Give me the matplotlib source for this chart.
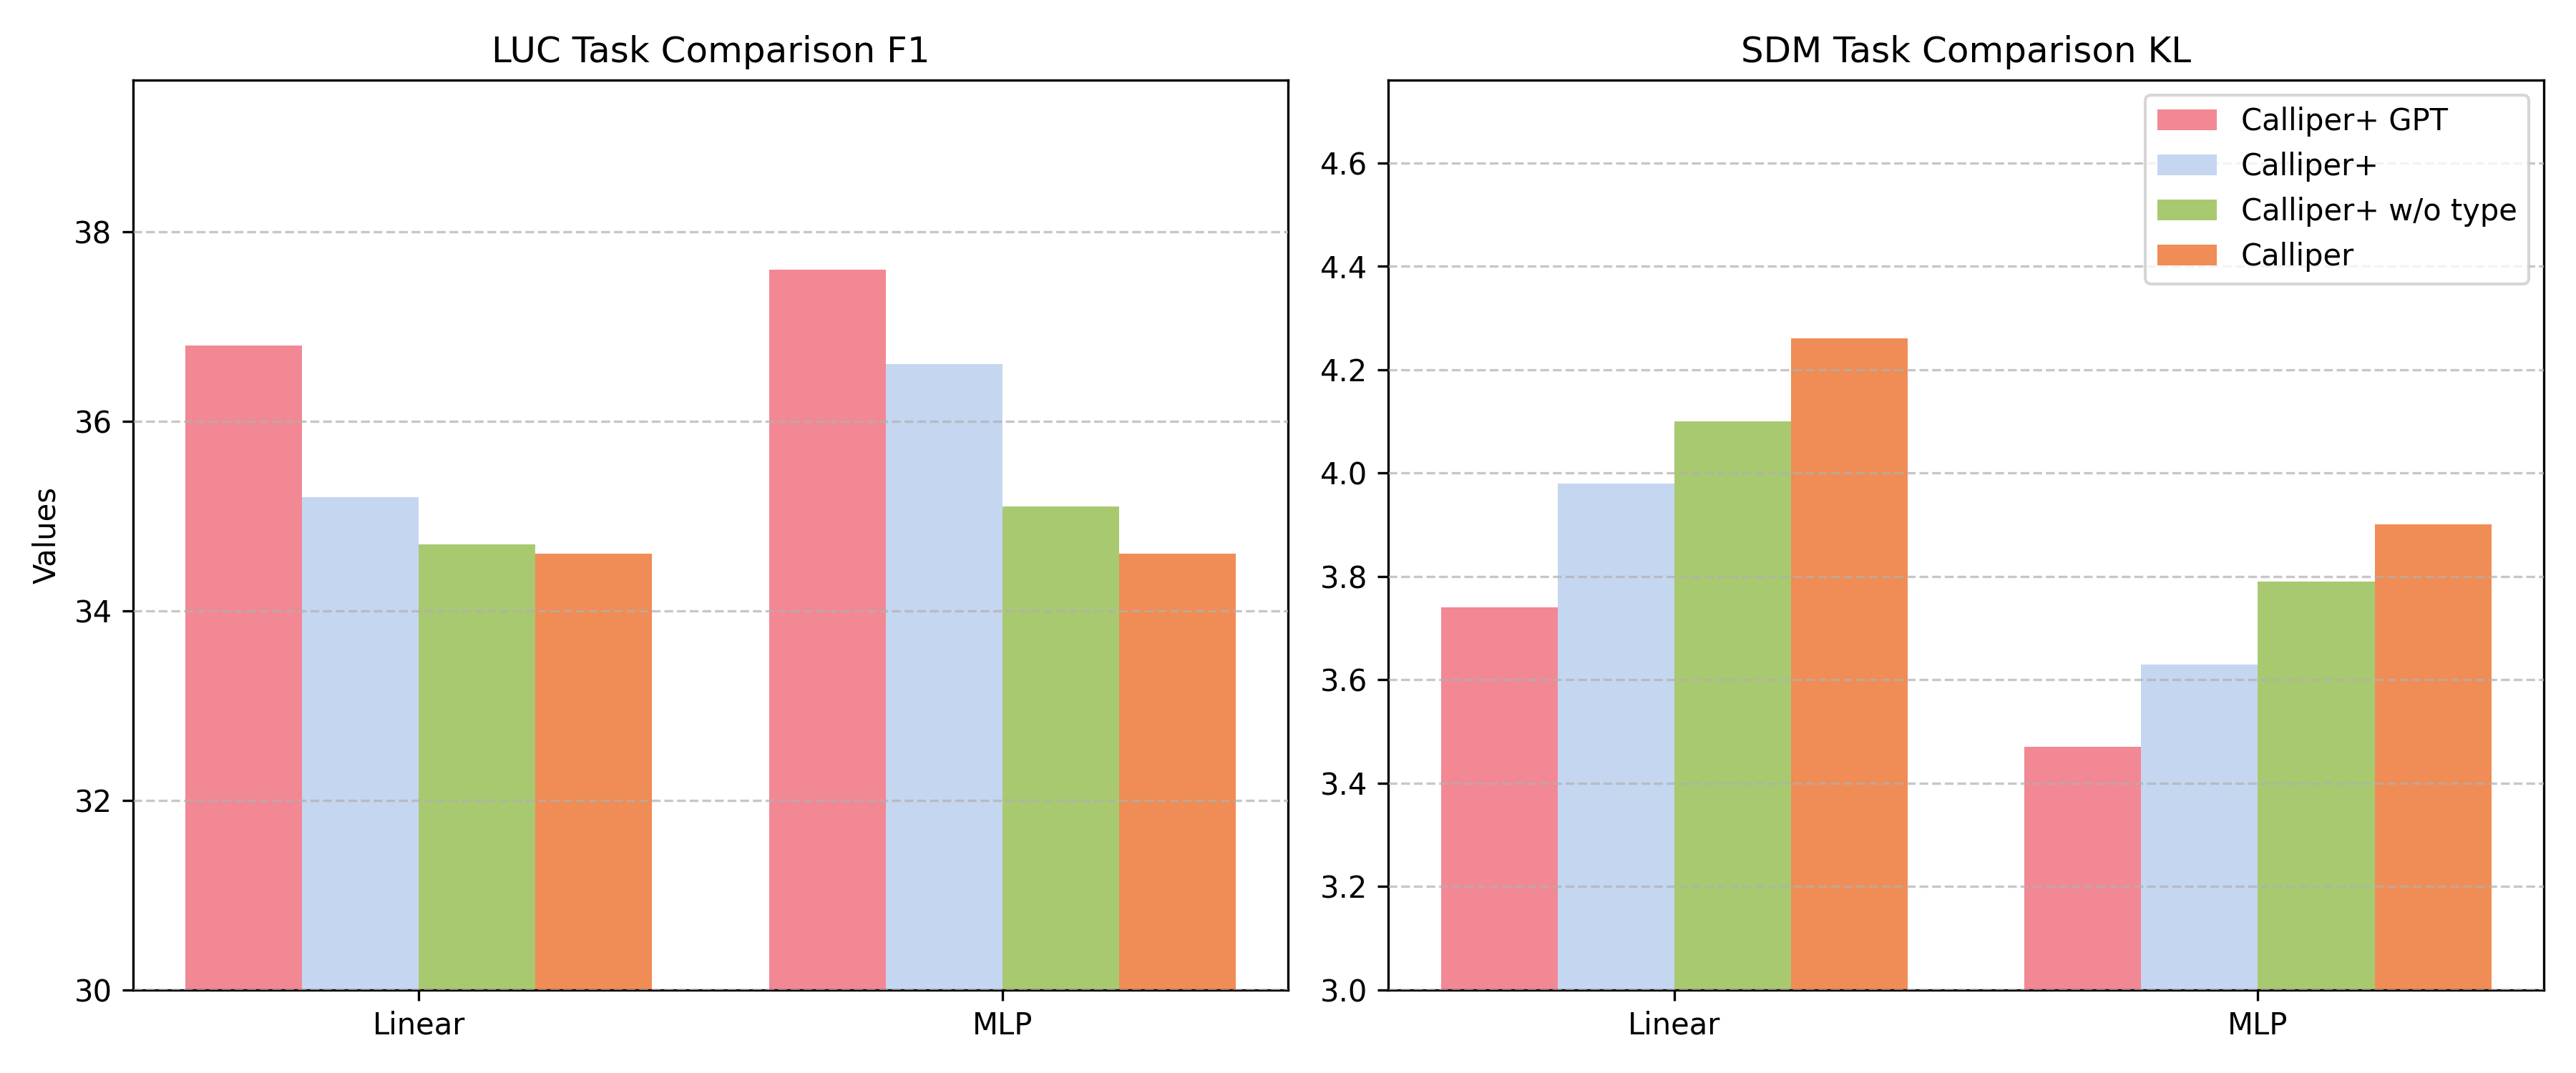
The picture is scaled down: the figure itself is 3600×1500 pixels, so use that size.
import numpy as np
import matplotlib.pyplot as plt

models = ['Linear', 'MLP']
methods = ['Calliper+ GPT', 'Calliper+', 'Calliper+ w/o type', 'Calliper']
colors = ['#F28893', '#C5D6F0', '#A9C971', '#F08C55']

# LUC F1
luc_f1 = {
    'Calliper+ GPT': [36.8, 37.6],
    'Calliper+': [35.2, 36.6],
    'Calliper+ w/o type': [34.7, 35.1],
    'Calliper': [34.6, 34.6],
}

# SDM KL
sdm_kl = {
    'Calliper+ GPT': [3.74, 3.47],
    'Calliper+': [3.98, 3.63],
    'Calliper+ w/o type': [4.10, 3.79],
    'Calliper': [4.26, 3.90],
}


def bar_panel(ax, data, title, ymin, pad):
    x = np.arange(len(models))
    width = 0.2
    for i, m in enumerate(methods):
        ax.bar(x + (i - 1.5) * width, data[m], width, label=m, color=colors[i])
    ax.set_xticks(x)
    ax.set_xticklabels(models)
    ax.set_title(title)
    vmax = max(max(v) for v in data.values())
    ax.set_ylim(ymin, vmax + pad)
    ax.grid(axis='y', linestyle='--', alpha=0.7)
    ax.set_axisbelow(False)


fig, axes = plt.subplots(1, 2, figsize=(12, 5))
bar_panel(axes[0], luc_f1, 'LUC Task Comparison F1', 30, 2)
axes[0].set_ylabel('Values')
bar_panel(axes[1], sdm_kl, 'SDM Task Comparison KL', 3.0, 0.5)
axes[1].legend(loc='upper right')

plt.tight_layout()
plt.savefig('out.png', dpi=300)
